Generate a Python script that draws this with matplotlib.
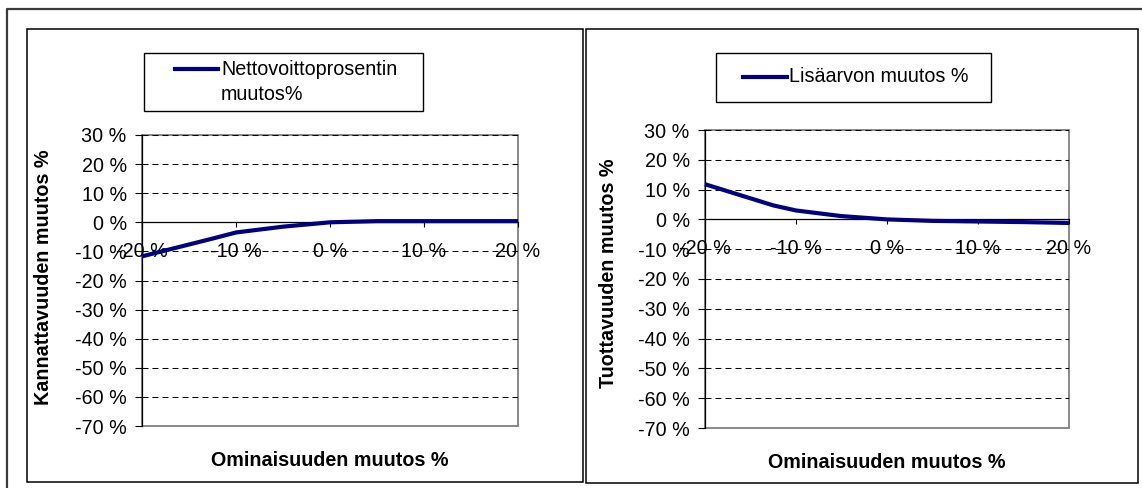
import matplotlib
matplotlib.use("Agg")
import matplotlib.pyplot as plt
from matplotlib.patches import Rectangle
from matplotlib.lines import Line2D

plt.rcParams['font.family'] = ['Liberation Sans', 'DejaVu Sans']
plt.rcParams['lines.scale_dashes'] = False

W, H = 1142, 488
NAVY = '#000080'
FS = 14.2

# values (x = change of the property, %)
ominaisuus = [-20, -12.5, -10, -5, 0, 5, 10, 15, 20]
nettovoitto = [-11.7, -5.6, -3.5, -1.5, 0.0, 0.4, 0.4, 0.4, 0.4]
lisaarvo = [11.8, 4.7, 3.0, 1.1, 0.0, -0.5, -0.7, -0.9, -1.2]

x_ticks = [-20, -10, 0, 10, 20]
x_labels = ['-20 %', '-10 %', '0 %', '10 %', '20 %']
y_ticks = [-70, -60, -50, -40, -30, -20, -10, 0, 10, 20, 30]
y_labels = ['-70 %', '-60 %', '-50 %', '-40 %', '-30 %', '-20 %', '-10 %',
            '0 %', '10 %', '20 %', '30 %']


def fx(px):
    return px / W


def fy(py):
    return 1 - py / H


def box(x0, y0, x1, y1, **kw):
    # rectangle given in pixel coords from the top left corner
    r = Rectangle((fx(x0), fy(y1)), (x1 - x0) / W, (y1 - y0) / H,
                  transform=fig.transFigure, **kw)
    fig.add_artist(r)
    return r


fig = plt.figure(figsize=(W / 100, H / 100), dpi=100)

# outer frame (only top and left visible) and the two chart panels
fig.add_artist(Line2D([fx(7), fx(7), 1], [0, fy(9), fy(9)],
                      transform=fig.transFigure, color='#3a3a3a', lw=1.6))
box(27, 29, 583, 482, fill=False, ec='black', lw=1.1)
box(586, 29, 1138, 483, fill=False, ec='black', lw=1.1)


def chart(plot_px, values, ylabel, ylab_pos, xlab_y, leg_px, handle_px, text_px, label):
    x0, y0, x1, y1 = plot_px
    ax = fig.add_axes([fx(x0), fy(y1), (x1 - x0) / W, (y1 - y0) / H])
    ax.plot(ominaisuus, values, color=NAVY, lw=3, clip_on=False,
            solid_capstyle='butt', zorder=5)
    ax.set_xlim(-20, 20)
    ax.set_ylim(-70, 30)
    ax.set_xticks(x_ticks, x_labels)
    ax.set_yticks(y_ticks, y_labels)

    ax.spines['top'].set_visible(False)
    ax.spines['right'].set_visible(False)
    ax.spines['bottom'].set_position(('data', 0))
    ax.spines['bottom'].set_linewidth(0.9)
    ax.spines['left'].set_linewidth(0.9)
    ax.patch.set_edgecolor('#808080')
    ax.patch.set_linewidth(1.3)

    ax.tick_params(axis='y', direction='out', length=5, width=0.8, pad=6,
                   labelsize=FS)
    ax.tick_params(axis='x', direction='out', length=3.6, width=0.8, pad=17.3,
                   labelsize=FS)
    for lab in ax.get_xticklabels():
        lab.set_va('center')

    ax.yaxis.grid(True, color='black', lw=0.75, linestyle=(0, (4.3, 2.9)))
    ax.xaxis.grid(False)
    grid = ax.yaxis.get_gridlines()
    grid[0].set_visible(False)   # -70 % is the plot border
    grid[7].set_visible(False)   # 0 % is the x axis

    ax.set_ylabel(ylabel, fontsize=FS, fontweight='bold', va='center')
    ax.yaxis.set_label_coords(*ylab_pos)
    ax.set_xlabel('Ominaisuuden muutos %', fontsize=FS, fontweight='bold',
                  va='center')
    ax.xaxis.set_label_coords(0.5, xlab_y)

    # legend box as drawn by the spreadsheet
    box(*leg_px, fc='white', ec='black', lw=1)
    hx0, hx1, hy = handle_px
    fig.add_artist(Line2D([fx(hx0), fx(hx1)], [fy(hy), fy(hy)],
                          transform=fig.transFigure, color=NAVY, lw=3))
    fig.text(fx(text_px[0]), fy(text_px[1]), label, ha='left', va='center',
             fontsize=FS, linespacing=1.35)
    return ax


chart((142, 135, 518, 426), nettovoitto, 'Kannattavuuden muutos %',
      (-0.261, 0.51), -0.117, (144, 53, 423, 111), (175, 218, 69),
      (221, 82), 'Nettovoittoprosentin\nmuutos%')

chart((705, 130, 1069, 428), lisaarvo, 'Tuottavuuden muutos %',
      (-0.264, 0.52), -0.117, (716, 53, 991, 102), (743, 787, 77),
      (789, 77), 'Lisäarvon muutos %')

fig.savefig('out.png', dpi=100)
